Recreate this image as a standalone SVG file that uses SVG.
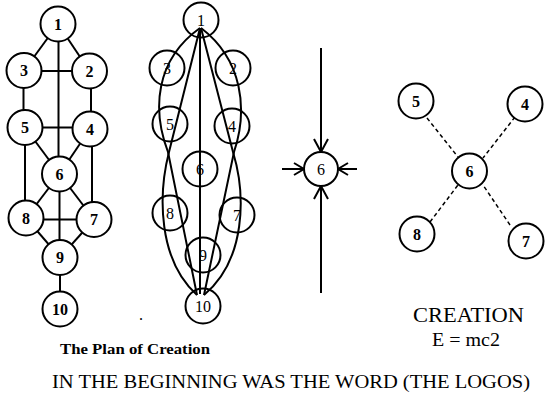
<svg xmlns="http://www.w3.org/2000/svg" width="558" height="400" viewBox="0 0 558 400">
<style>
.n circle{fill:#fff;stroke:#000;stroke-width:2}
.m circle{fill:none;stroke:#000;stroke-width:2}
.nb text{font-family:"Liberation Serif",serif;font-weight:bold;font-size:16px;text-anchor:middle;fill:#000}
.nr text{font-family:"Liberation Serif",serif;font-size:16px;text-anchor:middle;fill:#000}
.e line,.e path{stroke:#000;stroke-width:2;fill:none}
.d line{stroke:#000;stroke-width:1.5;stroke-dasharray:4 3}
.t{font-family:"Liberation Serif",serif;fill:#000}
</style>
<defs>
<marker id="aL" markerUnits="userSpaceOnUse" viewBox="-1 -9 16 18" refX="13" refY="0" markerWidth="16" markerHeight="18" orient="auto"><path d="M0,-7 L13,0 L0,7" fill="none" stroke="#000" stroke-width="2"/></marker>
<marker id="aS" markerUnits="userSpaceOnUse" viewBox="-1 -8 13 16" refX="10" refY="0" markerWidth="13" markerHeight="16" orient="auto"><path d="M0,-6 L10,0 L0,6" fill="none" stroke="#000" stroke-width="2"/></marker>
</defs>
<g id="connectors">
<g class="e">
<line x1="58.5" y1="24" x2="58.5" y2="174"/>
<line x1="24" y1="71" x2="89" y2="71"/>
<line x1="23.5" y1="70" x2="23.5" y2="127"/>
<line x1="91" y1="71" x2="91" y2="129"/>
<line x1="25" y1="127.5" x2="90" y2="127.5"/>
<line x1="25" y1="127" x2="25" y2="218"/>
<line x1="92" y1="129" x2="92" y2="219"/>
<line x1="58" y1="24" x2="24" y2="70.5"/>
<line x1="58" y1="24" x2="89.5" y2="71"/>
<line x1="25" y1="127.5" x2="59.5" y2="174"/>
<line x1="90" y1="129" x2="59.5" y2="174"/>
<line x1="59.5" y1="174" x2="26" y2="218"/>
<line x1="59.5" y1="174" x2="94" y2="219.5"/>
<line x1="26" y1="219.5" x2="94" y2="219.5"/>
<line x1="26" y1="218" x2="60" y2="257.5"/>
<line x1="94" y1="219.5" x2="60" y2="257.5"/>
<line x1="59.5" y1="174" x2="59.5" y2="257"/>
<line x1="60" y1="257" x2="60" y2="309"/>
</g>
<g class="e">
<line x1="200" y1="28" x2="200" y2="294"/>
<path d="M200,28 C155,60 152,110 168,152 L197,295"/>
<path d="M200,28 L169,152 C158,195 158,260 197,295"/>
<path d="M201,28 C243,60 248,110 234,152 L204,295"/>
<path d="M201,28 L233,152 C246,195 246,260 204,295"/>
</g>
<g class="e">
<line x1="321" y1="48" x2="321" y2="152" marker-end="url(#aL)"/>
<line x1="321" y1="293" x2="321" y2="186" marker-end="url(#aL)"/>
<line x1="282" y1="169" x2="304" y2="169" marker-end="url(#aS)"/>
<line x1="357" y1="169" x2="338" y2="169" marker-end="url(#aS)"/>
</g>
<g class="d">
<line x1="427" y1="118" x2="458" y2="157"/>
<line x1="515" y1="117" x2="483" y2="158"/>
<line x1="430" y1="222" x2="458" y2="185"/>
<line x1="510" y1="225" x2="483" y2="185"/>
</g>
</g>
<g class="n nb">
<g id="a1"><circle cx="58" cy="24" r="17.5"/><text x="58" y="29.5">1</text></g>
<g id="a3"><circle cx="24" cy="70.5" r="17.5"/><text x="24" y="76">3</text></g>
<g id="a2"><circle cx="89.5" cy="71" r="17.5"/><text x="89.5" y="76.5">2</text></g>
<g id="a5"><circle cx="25" cy="127.5" r="17.5"/><text x="25" y="133">5</text></g>
<g id="a4"><circle cx="90" cy="129" r="17.5"/><text x="90" y="134.5">4</text></g>
<g id="a6"><circle cx="59.5" cy="174" r="17.5"/><text x="59.5" y="179.5">6</text></g>
<g id="a8"><circle cx="26" cy="218" r="17.5"/><text x="26" y="223.5">8</text></g>
<g id="a7"><circle cx="94" cy="219.5" r="17.5"/><text x="94" y="225">7</text></g>
<g id="a9"><circle cx="60" cy="257.5" r="17.5"/><text x="60" y="263">9</text></g>
<g id="a10"><circle cx="60" cy="309" r="17.5"/><text x="60" y="314.5">10</text></g>
</g>
<g class="m nr">
<g id="b1"><circle cx="201" cy="20" r="17.5"/><text x="201" y="25.5">1</text></g>
<g id="b3"><circle cx="167" cy="68" r="17.5"/><text x="167" y="73.5">3</text></g>
<g id="b2"><circle cx="233" cy="68" r="17.5"/><text x="233" y="73.5">2</text></g>
<g id="b5"><circle cx="170" cy="124" r="17.5"/><text x="170" y="129.5">5</text></g>
<g id="b4"><circle cx="232" cy="126" r="17.5"/><text x="232" y="131.5">4</text></g>
<g id="b6"><circle cx="200" cy="169" r="17.5"/><text x="200" y="174.5">6</text></g>
<g id="b8"><circle cx="170" cy="213" r="17.5"/><text x="170" y="218.5">8</text></g>
<g id="b7"><circle cx="237" cy="215" r="17.5"/><text x="237" y="220.5">7</text></g>
<g id="b9"><circle cx="203" cy="255" r="17.5"/><text x="203" y="260.5">9</text></g>
<g id="b10"><circle cx="203" cy="306" r="17.5"/><text x="203" y="311.5">10</text></g>
</g>
<g class="n nr">
<g id="c6"><circle cx="321" cy="169" r="17"/><text x="321" y="174.5">6</text></g>
</g>
<g class="n nb">
<g id="d5"><circle cx="416" cy="101" r="17.5"/><text x="416" y="106.5">5</text></g>
<g id="d4"><circle cx="525" cy="104" r="17.5"/><text x="525" y="109.5">4</text></g>
<g id="d6"><circle cx="469.5" cy="171" r="17.5"/><text x="469.5" y="176.5">6</text></g>
<g id="d8"><circle cx="417" cy="234" r="17.5"/><text x="417" y="239.5">8</text></g>
<g id="d7"><circle cx="526" cy="241" r="17.5"/><text x="526" y="246.5">7</text></g>
</g>
<text class="t" x="139" y="320" font-size="16">.</text>
<text class="t" x="60" y="354" font-size="14.5" font-weight="bold" textLength="150" lengthAdjust="spacingAndGlyphs">The Plan of Creation</text>
<text class="t" x="413" y="322" font-size="21" textLength="111" lengthAdjust="spacingAndGlyphs">CREATION</text>
<text class="t" x="432" y="346" font-size="19" textLength="68" lengthAdjust="spacingAndGlyphs">E = mc2</text>
<text class="t" x="52" y="388" font-size="18" textLength="478" lengthAdjust="spacingAndGlyphs">IN THE BEGINNING WAS THE WORD (THE LOGOS)</text>
</svg>
